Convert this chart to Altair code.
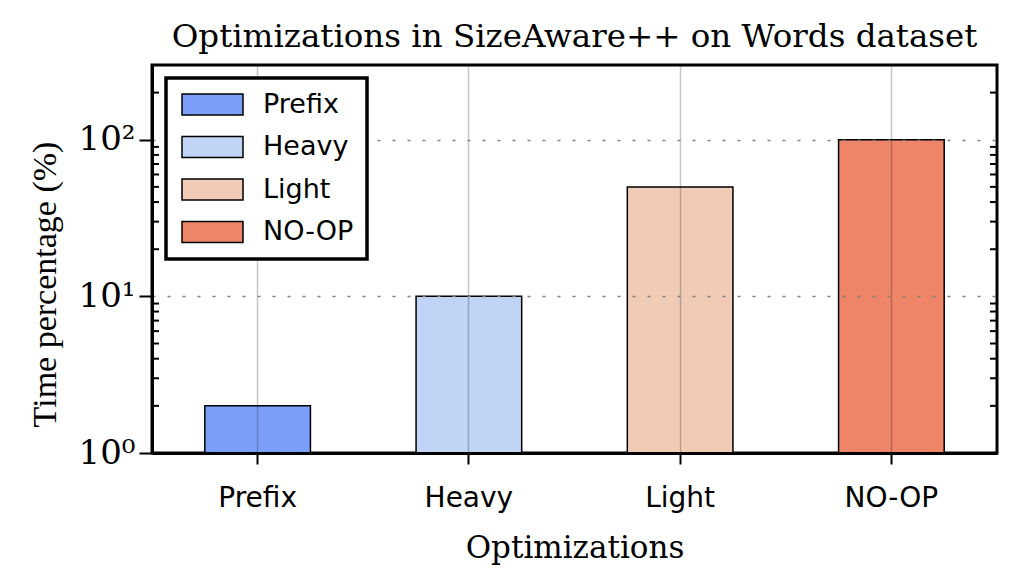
import altair as alt
import pandas as pd

categories = ["Prefix", "Heavy", "Light", "NO-OP"]
values = [2.0, 10.0, 50.0, 100.0]
colors = ["#7b9ff9", "#c0d4f5", "#f2cbb7", "#ee8468"]
y_tick_values = [1, 10, 100]
y_tick_labels = ["10⁰", "10¹", "10²"]
minor_ticks = [2, 3, 4, 5, 6, 7, 8, 9, 20, 30, 40, 50, 60, 70, 80, 90, 200, 300]

W, H = 845, 388

df = pd.DataFrame({"cat": categories, "val": values})
minor_df = pd.DataFrame({"v": minor_ticks})

label_expr = " : ".join(
    [f"datum.value == {v} ? '{l}'" for v, l in zip(y_tick_values, y_tick_labels)]
) + " : ''"

yscale = alt.Scale(type="log", domain=[1, 300], nice=False)

bars = alt.Chart(df).mark_bar(stroke="black", strokeWidth=1.5, opacity=1).encode(
    x=alt.X(
        "cat:N",
        sort=categories,
        scale=alt.Scale(paddingInner=0.5, paddingOuter=0.25),
        axis=alt.Axis(
            title="Optimizations",
            titleFont="DejaVu Serif",
            titleFontSize=31,
            titleFontWeight="normal",
            titleColor="black",
            titlePadding=21,
            labelFont="DejaVu Sans",
            labelFontSize=28,
            labelColor="black",
            labelAngle=0,
            labelPadding=20,
            tickSize=11,
            tickWidth=2,
            tickColor="black",
            domain=True,
            domainColor="black",
            domainWidth=3,
            grid=True,
            gridColor="#000000",
            gridOpacity=0.22,
            gridWidth=1.5,
            bandPosition=0.5,
            zindex=1,
        ),
    ),
    y=alt.Y(
        "val:Q",
        scale=yscale,
        axis=alt.Axis(
            title="Time percentage (%)",
            titleFont="Liberation Serif",
            titleFontSize=34,
            titleFontWeight="normal",
            titleColor="black",
            titleAngle=270,
            titleBaseline="alphabetic",
            titleX=-97,
            titleY=219,
            values=y_tick_values,
            labelExpr=label_expr,
            labelFont="DejaVu Serif",
            labelFontSize=34,
            labelColor="black",
            labelPadding=4,
            tickSize=13,
            tickWidth=2,
            tickColor="black",
            domain=True,
            domainColor="black",
            domainWidth=3,
            grid=True,
            gridColor="#808080",
            gridDash=[3, 12],
            gridWidth=1.5,
            gridOpacity={"condition": {"test": "datum.value == 1", "value": 0}, "value": 1},
            zindex=1,
        ),
    ),
    y2=alt.datum(1),
    fill=alt.Fill(
        "cat:N",
        sort=categories,
        scale=alt.Scale(domain=categories, range=colors),
        legend=alt.Legend(
            title=None,
            orient="none",
            legendX=14,
            legendY=13,
            symbolType="M-1,-1L4.81,-1L4.81,1L-1,1Z",
            symbolSize=441,
            symbolStrokeColor="black",
            symbolStrokeWidth=1.5,
            symbolOpacity=1,
            labelFont="DejaVu Sans",
            labelFontSize=27,
            labelColor="black",
            labelOffset=57,
            rowPadding=14.5,
            padding=13,
            strokeColor="black",
            fillColor="white",
            zindex=2,
        ),
    ),
)

left_minor = alt.Chart(minor_df).mark_rule(color="black", strokeWidth=2).encode(
    y=alt.Y("v:Q", scale=yscale),
    x=alt.value(0),
    x2=alt.value(7),
)
right_minor = alt.Chart(minor_df).mark_rule(color="black", strokeWidth=2).encode(
    y=alt.Y("v:Q", scale=yscale),
    x=alt.value(W - 7),
    x2=alt.value(W),
)

chart = (
    alt.layer(bars, left_minor, right_minor)
    .properties(
        width=W,
        height=H,
        background="white",
        title=alt.TitleParams(
            "Optimizations in SizeAware++ on Words dataset",
            font="DejaVu Serif",
            fontSize=32.5,
            fontWeight="normal",
            color="black",
            anchor="middle",
            offset=11,
        ),
        autosize=alt.AutoSizeParams(type="none"),
        padding={"left": 144, "top": 57, "right": 19, "bottom": 121},
    )
    .configure_view(stroke="black", strokeWidth=3)
    .configure_legend(strokeWidth=3.5)
)

chart.save("out.html", embed_options={"renderer": "svg", "actions": False})
